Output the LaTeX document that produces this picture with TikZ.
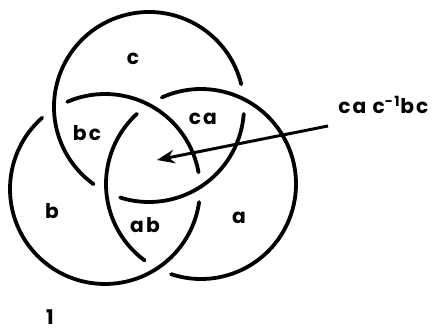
\documentclass[tikz,border=0pt]{standalone}
\usepackage{fontspec}
\newfontfamily\ringfont{Poppins}[LetterSpace=10]
\usetikzlibrary{arrows.meta}

\begin{document}
\begin{tikzpicture}[
    x=0.025cm, y=0.025cm,
    ring/.style={line width=2.7pt, line cap=round},
    lbl/.style={font=\ringfont\bfseries\Large, inner sep=0pt},
    arrow/.style={line width=2.1pt, -{Stealth[length=0.44cm, width=0.34cm]}}
]
\useasboundingbox (0,0) rectangle (432,334);

% ring centres
\coordinate (cc) at (149,227);
\coordinate (ca) at (201,150);
\coordinate (cb) at (105,145);

% each ring is cut where it passes under another one
\foreach \ctr/\ga/\gb in {cc/4.8/243.3, ca/123.4/242.6, cb/1.1/122.4} {
  \draw[ring] (\ctr) ++(\ga+9:95) arc[start angle=\ga+9, end angle=\gb-9, radius=95];
  \draw[ring] (\ctr) ++(\gb+9:95) arc[start angle=\gb+9, end angle=\ga+351, radius=95];
}

% region labels
\node[lbl] (lc) at (133,275) {c};
\node[lbl] (lbc) at (87,201) {bc};
\node[lbl] (lca) at (203,215) {ca};
\node[lbl] (lb) at (52,123) {b};
\node[lbl] (lab) at (145,109) {ab};
\node[lbl] (la) at (239,116) {a};
\node[lbl] (lone) at (50,17) {1};

% product label and arrow
\node[lbl, anchor=base west] (prod) at (338,220) {ca c\textsuperscript{-1}bc};
\coordinate (tip) at (157,174);
\draw[arrow] ([shift={(-10,-12)}]prod.base west) -- (tip);
\end{tikzpicture}
\end{document}
